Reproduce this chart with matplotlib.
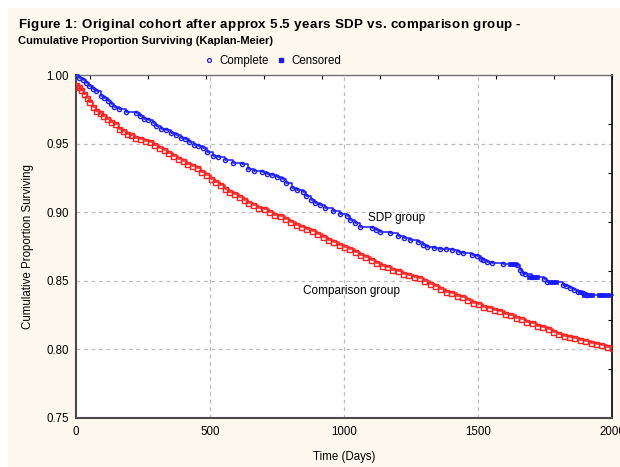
import numpy as np
import matplotlib
matplotlib.use("Agg")
import matplotlib.pyplot as plt
from matplotlib.lines import Line2D
from matplotlib.patches import Rectangle

plt.rcParams['font.family'] = ['Liberation Sans', 'DejaVu Sans']

# ---- data ----
comp_t = [0, 10, 20, 30, 40, 50, 62, 75, 88, 100, 115, 130, 145, 160, 175, 190, 205, 222,
          240, 258, 275, 292, 310, 328, 345, 362, 380, 398, 415, 432, 450, 468, 485, 502,
          520, 538, 555, 572, 590, 608, 625, 642, 660, 680, 700, 720, 740, 760, 780, 800,
          820, 840, 860, 880, 900, 920, 940, 960, 980, 1000, 1020, 1040, 1060, 1080, 1100,
          1120, 1140, 1160, 1180, 1200, 1220, 1240, 1260, 1280, 1300, 1320, 1340, 1360,
          1380, 1400, 1420, 1440, 1460, 1480, 1500, 1520, 1540, 1560, 1580, 1600, 1620,
          1640, 1660, 1680, 1700, 1720, 1740, 1760, 1780, 1800, 1820, 1840, 1860, 1880,
          1900, 1920, 1940, 1960, 1980, 2000]
comp_s = [0.993, 0.991, 0.989, 0.986, 0.983, 0.980, 0.977, 0.974, 0.972, 0.970, 0.968, 0.966,
          0.964, 0.961, 0.959, 0.957, 0.956, 0.954, 0.953, 0.952, 0.951, 0.949, 0.947, 0.945,
          0.943, 0.941, 0.939, 0.937, 0.935, 0.934, 0.932, 0.929, 0.927, 0.924, 0.922, 0.920,
          0.917, 0.915, 0.913, 0.911, 0.909, 0.907, 0.905, 0.903, 0.902, 0.900, 0.898, 0.897,
          0.895, 0.893, 0.891, 0.889, 0.888, 0.886, 0.884, 0.882, 0.880, 0.878, 0.876, 0.875,
          0.873, 0.871, 0.869, 0.867, 0.865, 0.863, 0.861, 0.860, 0.858, 0.857, 0.855, 0.854,
          0.853, 0.852, 0.850, 0.848, 0.846, 0.844, 0.842, 0.841, 0.839, 0.838, 0.836, 0.834,
          0.833, 0.831, 0.830, 0.829, 0.828, 0.826, 0.825, 0.823, 0.822, 0.820, 0.819, 0.817,
          0.816, 0.815, 0.813, 0.811, 0.810, 0.809, 0.808, 0.807, 0.806, 0.805, 0.804, 0.803,
          0.802, 0.801]

sdp_t = [0, 12, 25, 37, 50, 62, 75, 93, 105, 118, 130, 142, 160, 187, 224, 240, 255, 270, 287,
         300, 318, 336, 355, 373, 390, 405, 422, 440, 456, 474, 490, 511, 530, 556, 586, 619,
         642, 665, 694, 712, 731, 750, 769, 785, 806, 825, 847, 860, 875, 892, 910, 929, 959,
         985, 1011, 1022, 1040, 1060, 1104, 1120, 1134, 1172, 1201, 1225, 1246, 1276, 1295,
         1310, 1335, 1358, 1380, 1403, 1425, 1444, 1478, 1496, 1510, 1519, 1535, 1552, 1593,
         1646, 1657, 1665, 1675, 1701, 1745, 1757, 1817, 1830, 1843, 1858, 1873, 1890, 1907]
sdp_s = [1.000, 0.998, 0.996, 0.994, 0.992, 0.990, 0.988, 0.985, 0.983, 0.981, 0.979, 0.977,
         0.975, 0.973, 0.972, 0.970, 0.968, 0.967, 0.965, 0.963, 0.961, 0.960, 0.958, 0.956,
         0.954, 0.953, 0.951, 0.949, 0.948, 0.947, 0.944, 0.941, 0.940, 0.938, 0.936, 0.935,
         0.9315, 0.930, 0.929, 0.928, 0.927, 0.926, 0.924, 0.921, 0.918, 0.916, 0.9147, 0.912,
         0.909, 0.907, 0.905, 0.903, 0.901, 0.899, 0.897, 0.8943, 0.892, 0.8892, 0.8885, 0.887,
         0.8856, 0.8848, 0.8826, 0.881, 0.880, 0.8783, 0.876, 0.8746, 0.874, 0.8732, 0.873,
         0.8725, 0.871, 0.870, 0.869, 0.868, 0.866, 0.865, 0.864, 0.863, 0.8622, 0.8615, 0.858,
         0.856, 0.855, 0.853, 0.851, 0.849, 0.847, 0.846, 0.8447, 0.843, 0.842, 0.841, 0.8396]
sdp_end = 2005

cens_t = [1618, 1628, 1638, 1690, 1700, 1712, 1722, 1770, 1780, 1790, 1880, 1895, 1915, 1925,
          1950, 1960, 1972, 1984]
cens_s = [0.8622, 0.8622, 0.8622, 0.853, 0.853, 0.853, 0.853, 0.849, 0.849, 0.849, 0.842,
          0.8396, 0.8396, 0.8396, 0.8396, 0.8396, 0.8396, 0.8396]

title1 = "Figure 1: Original cohort after approx 5.5 years SDP vs. comparison group -"
title2 = "Cumulative Proportion Surviving (Kaplan-Meier)"
xlabel = "Time (Days)"
ylabel = "Cumulative Proportion Surviving"
xticks = [0, 500, 1000, 1500, 2000]
yticks = [0.75, 0.80, 0.85, 0.90, 0.95, 1.00]

# ---- figure ----
W, H = 620, 467
fig = plt.figure(figsize=(W / 100, H / 100), dpi=100)
fig.patch.set_facecolor('white')
fig.patches.append(Rectangle((8 / W, 0), 1, (H - 8) / H, transform=fig.transFigure,
                             facecolor='#FDF9EE', edgecolor='none', zorder=-10))

ax = fig.add_axes([76 / W, (H - 418) / H, (612 - 76) / W, (418 - 75) / H])
ax.set_facecolor('white')
ax.set_xlim(0, 2000)
ax.set_ylim(0.75, 1.00)

for v in xticks[1:-1]:
    ax.axvline(v, color='#BDBDBD', lw=0.9, ls=(0, (3, 3)), zorder=1)
for v in yticks[1:-1]:
    ax.axhline(v, color='#BDBDBD', lw=0.9, ls=(0, (3, 3)), zorder=1)

red = '#FF2020'
blue = '#1A1AFF'
ax.step(comp_t, comp_s, where='post', color=red, lw=1.1, zorder=3)
ax.plot(comp_t, comp_s, ls='none', marker='s', ms=3.6, mfc='none', mec=red, mew=1.0, zorder=4)

st = list(sdp_t) + [sdp_end]
ss = list(sdp_s) + [sdp_s[-1]]
ax.step(st, ss, where='post', color=blue, lw=1.1, zorder=3, clip_on=False)
ax.plot(sdp_t, sdp_s, ls='none', marker='o', ms=3.0, mfc='none', mec=blue, mew=1.0, zorder=4)
ax.plot(cens_t, cens_s, ls='none', marker='s', ms=2.8, mfc=blue, mec=blue, mew=0.5, zorder=4)

ax.text(1090, 0.8958, "SDP group", fontsize=8.5, va='center', ha='left', zorder=5)
ax.text(847, 0.8426, "Comparison group", fontsize=8.5, va='center', ha='left', zorder=5)

ax.set_xticks(xticks)
ax.set_yticks(yticks)
ax.set_xticklabels([str(v) for v in xticks], fontsize=8.3)
ax.set_yticklabels(["%.2f" % v for v in yticks], fontsize=8.3)
ax.tick_params(axis='x', direction='out', length=0, pad=6, colors='black')
ax.tick_params(axis='y', direction='out', length=0, pad=5, colors='black')
ax.set_xlabel(xlabel, fontsize=8.3, labelpad=9)
ax.set_ylabel(ylabel, fontsize=8.3, labelpad=9)

for side in ['left', 'bottom']:
    ax.spines[side].set_color('#4A4A4A')
    ax.spines[side].set_linewidth(1.5)
ax.spines['right'].set_color('black')
ax.spines['right'].set_linewidth(1.2)
ax.spines['top'].set_color('#707070')
ax.spines['top'].set_linewidth(1.0)

# mirrored ticks (top and right), Statistica style
axt = ax.secondary_xaxis('top')
axt.set_xticks(2000 - 216.4 * np.arange(10))
axt.tick_params(direction='in', length=3, labeltop=False, width=0.8)
axt.spines['top'].set_visible(False)
axr = ax.secondary_yaxis('right')
axr.set_yticks(0.75 + np.arange(8) * 0.25 / 7)
axr.tick_params(direction='in', length=3, labelright=False, width=0.8)
axr.spines['right'].set_visible(False)

fig.text(18 / W, 1 - 41 / H, title2, fontsize=8.0, fontweight='bold', va='center', ha='left')

handles = [Line2D([], [], ls='none', marker='o', ms=2.8, mfc='none', mec=blue, mew=0.9),
           Line2D([], [], ls='none', marker='s', ms=2.6, mfc=blue, mec=blue)]
fig.legend(handles, ['Complete', 'Censored'], loc='center', bbox_to_anchor=(272 / W, 1 - 61 / H),
           ncol=2, frameon=False, fontsize=8.3, handlelength=1.0, handletextpad=0.4,
           columnspacing=0.6, borderpad=0)

# title line 1, letter-spaced to its width in the reference
fig.canvas.draw()
renderer = fig.canvas.get_renderer()
FS = 9.6


def text_width(s):
    t = fig.text(0, 0, s, fontsize=FS, fontweight='bold')
    w = t.get_window_extent(renderer).width
    t.remove()
    return w


natural = text_width(title1)
target = 502.0
extra = max(0.0, (target - natural) / (len(title1) - 1))
x = 18.0
for ch in title1:
    if ch == ' ':
        w = text_width('a a') - text_width('aa')
    else:
        fig.text(x / W, 1 - 25 / H, ch, fontsize=FS, fontweight='bold', va='center', ha='left')
        w = text_width(ch)
    x += w + extra

fig.savefig('out.png', dpi=100)
